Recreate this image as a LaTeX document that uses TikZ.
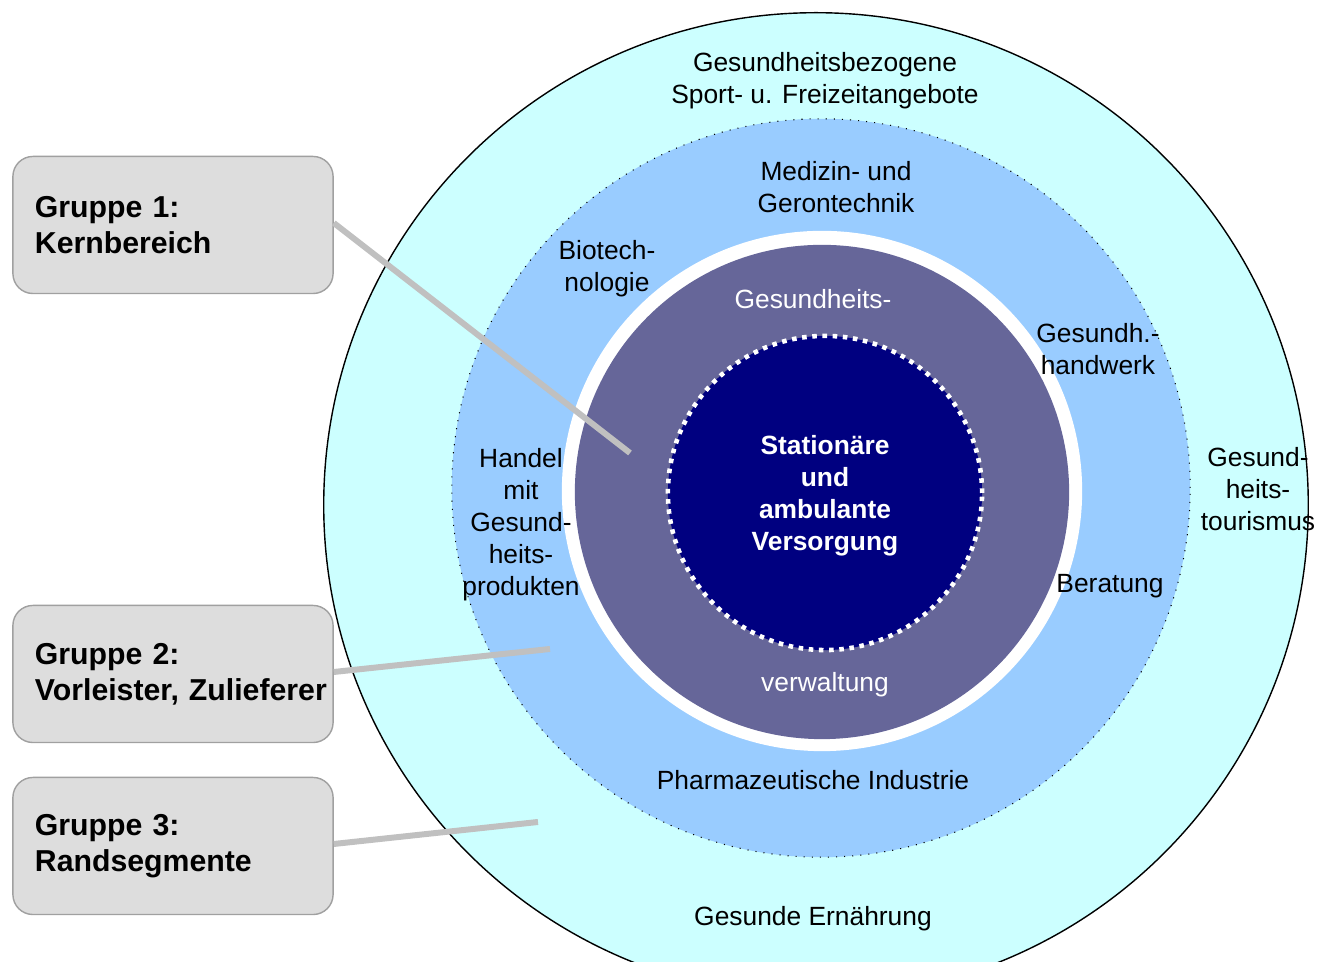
\documentclass[tikz,border=0pt]{standalone}
\usepackage{fontspec}
\setmainfont{Liberation Sans}
\usetikzlibrary{positioning}

\definecolor{ringcyan}{HTML}{CCFFFF}
\definecolor{ringblue}{HTML}{99CCFF}
\definecolor{ringviolet}{HTML}{666699}
\definecolor{corenavy}{HTML}{000080}
\definecolor{boxgray}{HTML}{DDDDDD}
\definecolor{boxline}{HTML}{A0A0A0}
\definecolor{pointer}{HTML}{C0C0C0}

\begin{document}
\begin{tikzpicture}
	[x=0.01cm,y=-0.01cm,
	 ring/.style={circle,inner sep=0pt},
	 label/.style={inner sep=0pt,align=center,font=\fontsize{7.5}{9.1}\selectfont},
	 group/.style={draw=boxline,fill=boxgray,rounded corners=0.2cm,minimum height=1.37cm,
	   text width=2.76cm,inner xsep=0.22cm,align=left,font=\fontsize{8.6}{10.2}\selectfont\bfseries},
	 connect/.style={draw=pointer,line width=1.7pt}]
	\useasboundingbox (0,0) rectangle (1320,962);
	\clip (0,0) rectangle (1320,962);

	% rings
	\node (outer) [ring,draw=black,thin,fill=ringcyan,minimum size=9.84cm] at (816,505) {};
	\node (middle) [ring,draw=black,line width=0.3pt,dotted,fill=ringblue,minimum size=7.38cm] at (821,488) {};
	\node (gap) [ring,fill=white,minimum size=5.2cm] at (822,491) {};
	\node (kern) [ring,fill=ringviolet,minimum size=4.94cm] at (822,492) {};
	\node (core) [ring,fill=corenavy,draw=white,line width=1.3pt,dash pattern=on 1.3pt off 1.6pt,
	  minimum size=3.14cm,text=white,align=center,font=\fontsize{7.5}{9.1}\selectfont\bfseries]
	  at (825,493) {};
	\node (versorgung) [label,text=white,font=\fontsize{7.5}{9.1}\selectfont\bfseries] at (825,496)
	  {Stationäre\\und\\ambulante\\Versorgung};

	% labels
	\node (sport) [label] at (825,81) {Gesundheitsbezogene\\Sport- u. Freizeitangebote};
	\node (medizin) [label] at (836,187) {Medizin- und\\Gerontechnik};
	\node (biotech) [label] at (607,269) {Biotech-\\nologie};
	\node (handwerk) [label] at (1098,349) {Gesundh.-\\handwerk};
	\node (tourismus) [label] at (1258,489) {Gesund-\\heits-\\tourismus};
	\node (handel) [label] at (521,525) {Handel\\mit\\Gesund-\\heits-\\produkten};
	\node (beratung) [label] at (1110,586) {Beratung};
	\node (pharma) [label] at (813,780) {Pharmazeutische Industrie};
	\node (ernaehrung) [label] at (813,919) {Gesunde Ernährung};
	\node (verw1) [label,text=white] at (813,299) {Gesundheits-};
	\node (verw2) [label,text=white] at (825,685) {verwaltung};

	% groups
	\node (g1) [group] at (173,225) {Gruppe 1:\\Kernbereich};
	\node (g2) [group] at (173,674) {Gruppe 2:\\\mbox{Vorleister, Zulieferer}};
	\node (g3) [group] at (173,846) {Gruppe 3:\\Randsegmente};

	\coordinate (p1) at (630,453);
	\coordinate (p2) at (550,649);
	\coordinate (p3) at (538,822);
	\draw [connect] (g1.east) ++(0,-2) -- (p1);
	\draw [connect] (g2.east) ++(0,-2) -- (p2);
	\draw [connect] (g3.east) ++(0,-2) -- (p3);
\end{tikzpicture}
\end{document}
